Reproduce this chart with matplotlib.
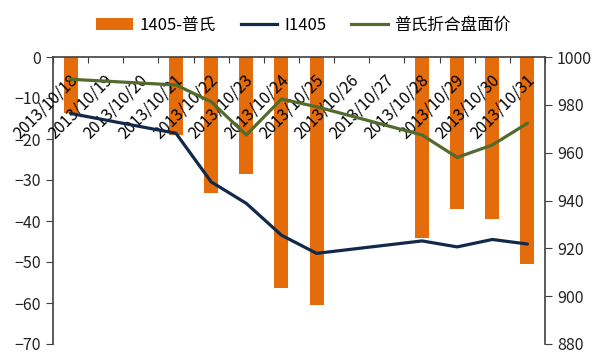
import matplotlib
matplotlib.use('Agg')
import matplotlib.pyplot as plt
from matplotlib.patches import Patch
from matplotlib.lines import Line2D

plt.rcParams['font.family'] = ['Noto Sans CJK SC', 'DejaVu Sans']

# ====================== Data ======================
all_dates = ['2013/10/18', '2013/10/19', '2013/10/20', '2013/10/21', '2013/10/22',
             '2013/10/23', '2013/10/24', '2013/10/25', '2013/10/26', '2013/10/27',
             '2013/10/28', '2013/10/29', '2013/10/30', '2013/10/31']
trade_dates = ['2013/10/18', '2013/10/21', '2013/10/22', '2013/10/23', '2013/10/24',
               '2013/10/25', '2013/10/28', '2013/10/29', '2013/10/30', '2013/10/31']
spread = [-13.6, -19.0, -33.1, -28.6, -56.4, -60.5, -44.2, -37.1, -39.4, -50.4]
i1405 = [976.4, 968.1, 947.8, 938.8, 925.5, 917.9, 923.1, 920.6, 923.7, 921.8]
platts = [990.7, 988.3, 981.3, 967.4, 982.4, 979.2, 967.4, 958.0, 963.2, 972.3]

C_BAR = '#E46C0A'
C_BLUE = '#13294A'
C_GREEN = '#526B2D'
C_AXIS = '#404040'

x = [all_dates.index(d) for d in trade_dates]

fig = plt.figure(figsize=(5.95, 3.54), dpi=100)
ax = fig.add_axes([53 / 595, 1 - 344 / 354, 492 / 595, 287 / 354])
ax2 = ax.twinx()

# ====================== Bars ======================
ax.bar(x, spread, width=0.4, color=C_BAR, zorder=2)
ax.set_xlim(-0.5, len(all_dates) - 0.5)
ax.set_ylim(-70, 0)
ax.set_yticks(range(-70, 1, 10))

# date labels under the top axis line
for i, d in enumerate(all_dates):
    ax.text(i + 0.12, -5.0, d, rotation=45, ha='right', va='center',
            rotation_mode='anchor', fontsize=11.5, color='black', zorder=3)

# ====================== Lines ======================
ax2.plot(x, i1405, color=C_BLUE, linewidth=2.3, solid_capstyle='round')
ax2.plot(x, platts, color=C_GREEN, linewidth=2.3, solid_capstyle='round')
ax2.set_ylim(880, 1000)
ax2.set_yticks(range(880, 1001, 20))

# ====================== Axes styling ======================
ax.set_xticks([k - 0.5 for k in range(len(all_dates) + 1)])
ax.set_xticklabels([])
ax.tick_params(axis='x', top=True, bottom=False, direction='in', length=4,
               color=C_AXIS, labelbottom=False)
ax.tick_params(axis='y', direction='out', length=5, color=C_AXIS, labelsize=11.5,
               labelcolor='#222222')
ax2.tick_params(axis='y', direction='out', length=5, color=C_AXIS, labelsize=11.5,
                labelcolor='#222222')
for a in (ax, ax2):
    a.spines['bottom'].set_visible(False)
    for s in ('top', 'left', 'right'):
        a.spines[s].set_color(C_AXIS)
        a.spines[s].set_linewidth(1.2)
ax2.spines['left'].set_visible(False)
ax2.spines['top'].set_visible(False)
ax.spines['right'].set_visible(False)

# ====================== Legend ======================
handles = [Patch(facecolor=C_BAR), Line2D([], [], color=C_BLUE, linewidth=2.3),
           Line2D([], [], color=C_GREEN, linewidth=2.3)]
labels = ['1405-普氏', 'I1405', '普氏折合盘面价']
fig.legend(handles, labels, loc='center', bbox_to_anchor=(0.51, 0.928), ncol=3,
           frameon=False, fontsize=12, handlelength=2.2, columnspacing=1.5,
           handletextpad=0.4)

fig.savefig('out.png', dpi=100)
